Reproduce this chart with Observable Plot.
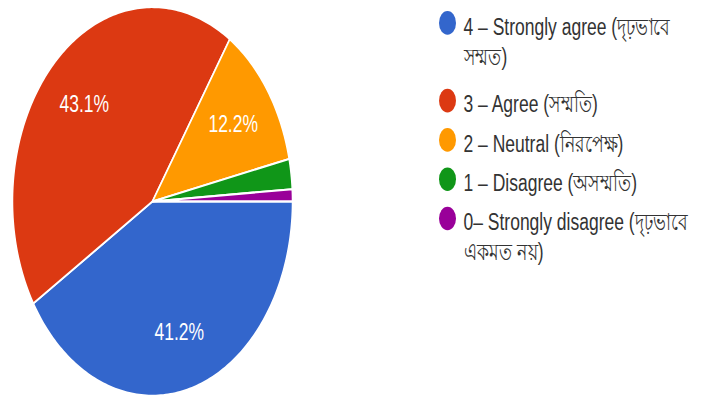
<!DOCTYPE html>
<html>
<head>
<meta charset="utf-8">
<script src="https://cdn.jsdelivr.net/npm/d3@7"></script>
<script src="https://cdn.jsdelivr.net/npm/@observablehq/plot@0.6"></script>
<style>
  body { margin: 0; background: #fff; }
  #chart svg { display: block; }
</style>
</head>
<body>
<div id="chart"></div>
<script>
// ---- data ----
const categories = ["4", "3", "2", "1", "0"];
const legendLabels = [
  "4 – Strongly agree (দৃঢ়ভাবে\nসম্মত)",
  "3 – Agree (সম্মতি)",
  "2 – Neutral (নিরপেক্ষ)",
  "1 – Disagree (অসম্মতি)",
  "0– Strongly disagree (দৃঢ়ভাবে\nএকমত নয়)"
];
const values = [41.2, 43.1, 12.2, 2.5, 1.0];
const colors = ["#3366cc", "#dc3912", "#ff9900", "#109618", "#990099"];

// ---- layout (unstretched space; the picture is stretched vertically) ----
const W = 717, H = 397, stretch = 1.39, Hu = Math.round(H / stretch);
const cx = 152, cy = 144.6, R = 140;
const fontSize = 17.5;
const font = "'Liberation Sans', Arial, 'Noto Sans', sans-serif";

// pie geometry computed from the values
const total = d3.sum(values);
const slices = [];
let cum = 0;
values.forEach((v, i) => {
  const t0 = cum / total, t1 = (cum + v) / total;
  cum += v;
  slices.push({key: categories[i], value: v, t0, t1, mid: (t0 + t1) / 2});
});
const pts = [];
for (const s of slices) {
  pts.push({key: s.key, x: 0, y: 0});
  const n = Math.max(2, Math.ceil((s.t1 - s.t0) * 360));
  for (let k = 0; k <= n; k++) {
    const a = -2 * Math.PI * (s.t0 + (s.t1 - s.t0) * k / n);
    pts.push({key: s.key, x: Math.cos(a), y: Math.sin(a)});
  }
}
const labelR = 0.7;
const labels = slices.filter(s => s.value >= 5).map(s => {
  const a = -2 * Math.PI * s.mid;
  return {key: s.key, x: labelR * Math.cos(a), y: labelR * Math.sin(a), text: s.value.toFixed(1) + "%"};
});

// legend rows (pixel layout converted into the same data units)
const toX = px => (px - cx) / R;
const toY = py => (cy - py) / R;
const rowTop = 16, rowPitch = 28.3, extraLine = 27.7;
let extra = 0;
const legend = categories.map((k, i) => {
  const py = rowTop + i * rowPitch + extra;
  extra += (legendLabels[i].split("\n").length - 1) * extraLine;
  return {key: k, label: legendLabels[i], y: toY(py)};
});

const svg = Plot.plot({
  width: W,
  height: Hu,
  margin: 0,
  style: {fontFamily: font, background: "#fff"},
  x: {domain: [-1, 1], range: [cx - R, cx + R], axis: null},
  y: {domain: [-1, 1], range: [cy + R, cy - R], axis: null},
  color: {domain: categories, range: colors},
  marks: [
    Plot.line(pts, {x: "x", y: "y", z: "key", fill: "key", stroke: "white", strokeWidth: 1.5, curve: "linear-closed"}),
    Plot.text(labels, {x: "x", y: "y", text: "text", fill: "white", fontSize, textAnchor: "middle"}),
    Plot.dot(legend, {x: () => toX(447), y: "y", fill: "key", r: 8.5}),
    Plot.text(legend, {x: () => toX(463), y: "y", text: "label", fill: "#333", fontSize,
      textAnchor: "start", lineAnchor: "top", dy: -0.39 * fontSize, lineHeight: 1.23})
  ]
});

svg.setAttribute("width", W);
svg.setAttribute("height", H);
svg.setAttribute("preserveAspectRatio", "none");
svg.style.width = W + "px";
svg.style.height = H + "px";
svg.style.maxWidth = "none";
document.getElementById("chart").appendChild(svg);
</script>
</body>
</html>
